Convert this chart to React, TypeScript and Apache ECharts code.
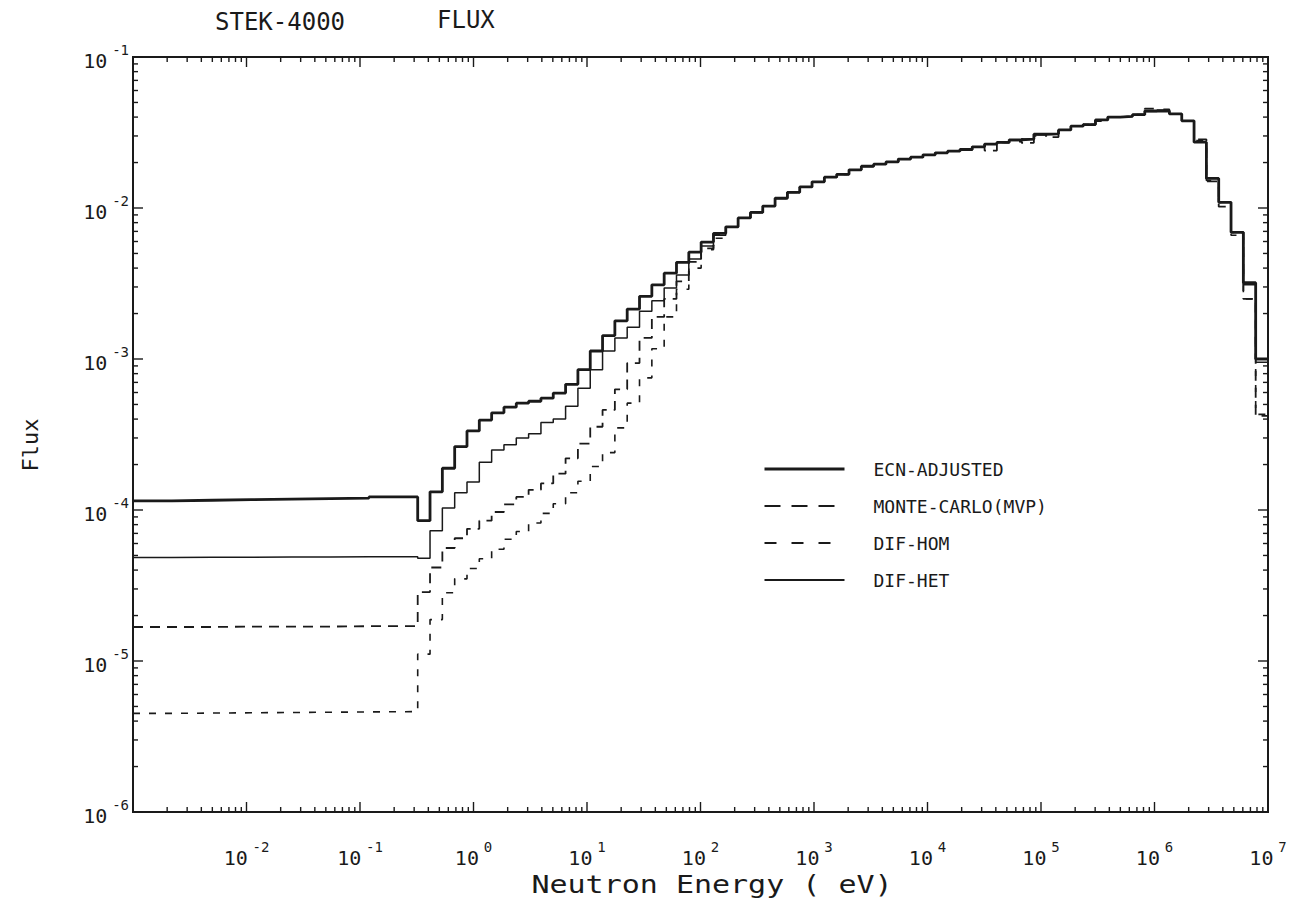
import React, { useEffect, useRef } from "react";
import * as echarts from "echarts";

// Group boundaries (eV), ascending; last value is the top edge of the last group
const ENERGY_EDGES = [
  0.001, 0.0022, 0.005, 0.011, 0.025, 0.055, 0.12,
  0.3224, 0.414, 0.5316, 0.6826, 0.8764,
  1.125, 1.445, 1.855, 2.382, 3.059, 3.928, 5.043, 6.476, 8.315,
  10.68, 13.71, 17.6, 22.6, 29.02, 37.27, 47.85, 61.44, 78.89,
  101.3, 130.1, 167.0, 214.5, 275.4, 353.6, 454.0, 583.0, 748.5, 961.1,
  1234, 1585, 2035, 2613, 3355, 4308, 5530, 7102, 9119,
  11710, 15030, 19310, 24790, 31830, 40870, 52480, 67380, 86540,
  111100, 142700, 183200, 235200, 301900, 387600, 497900, 639200, 820800,
  1054000, 1353000, 1738000, 2231000, 2865000, 3679000, 4724000, 6065000, 7788000,
  1e7,
];

const ECN_ADJUSTED = [
  1.15e-4, 1.16e-4, 1.17e-4, 1.18e-4, 1.19e-4, 1.2e-4, 1.22e-4,
  8.5e-5, 1.32e-4, 1.89e-4, 2.63e-4, 3.34e-4,
  3.94e-4, 4.4e-4, 4.8e-4, 5.1e-4, 5.25e-4, 5.5e-4, 5.95e-4, 6.8e-4, 8.5e-4,
  1.13e-3, 1.43e-3, 1.79e-3, 2.14e-3, 2.6e-3, 3.1e-3, 3.7e-3, 4.37e-3, 5.1e-3,
  5.95e-3, 6.8e-3, 7.5e-3, 8.6e-3, 9.35e-3, 1.03e-2, 1.16e-2, 1.27e-2, 1.38e-2, 1.49e-2,
  1.6e-2, 1.67e-2, 1.79e-2, 1.89e-2, 1.95e-2, 2.02e-2, 2.11e-2, 2.17e-2, 2.25e-2,
  2.32e-2, 2.38e-2, 2.44e-2, 2.54e-2, 2.65e-2, 2.72e-2, 2.83e-2, 2.86e-2, 3.08e-2,
  3.1e-2, 3.29e-2, 3.48e-2, 3.57e-2, 3.83e-2, 4.0e-2, 4.04e-2, 4.15e-2, 4.39e-2,
  4.4e-2, 4.2e-2, 3.78e-2, 2.73e-2, 1.57e-2, 1.09e-2, 6.9e-3, 3.2e-3, 1.0e-3,
];

const MONTE_CARLO_MVP = [
  1.68e-5, 1.68e-5, 1.69e-5, 1.69e-5, 1.69e-5, 1.7e-5, 1.7e-5,
  2.86e-5, 4.16e-5, 5.6e-5, 6.5e-5, 7.5e-5,
  8.5e-5, 9.7e-5, 1.09e-4, 1.22e-4, 1.36e-4, 1.5e-4, 1.74e-4, 2.2e-4, 2.75e-4,
  3.56e-4, 4.6e-4, 6.3e-4, 9.4e-4, 1.38e-3, 1.9e-3, 2.5e-3, 3.27e-3, 4.4e-3,
  5.4e-3, 6.7e-3, 7.5e-3, 8.6e-3, 9.35e-3, 1.03e-2, 1.16e-2, 1.27e-2, 1.38e-2, 1.49e-2,
  1.6e-2, 1.67e-2, 1.79e-2, 1.89e-2, 1.95e-2, 2.02e-2, 2.11e-2, 2.17e-2, 2.25e-2,
  2.32e-2, 2.38e-2, 2.44e-2, 2.54e-2, 2.4e-2, 2.72e-2, 2.83e-2, 2.7e-2, 3.08e-2,
  2.95e-2, 3.29e-2, 3.48e-2, 3.57e-2, 3.83e-2, 4.0e-2, 4.04e-2, 4.15e-2, 4.55e-2,
  4.4e-2, 4.2e-2, 3.78e-2, 2.85e-2, 1.5e-2, 1.02e-2, 6.9e-3, 2.5e-3, 4.2e-4,
];

const DIF_HOM = [
  4.5e-6, 4.52e-6, 4.54e-6, 4.56e-6, 4.58e-6, 4.6e-6, 4.62e-6,
  1.11e-5, 1.88e-5, 2.83e-5, 3.5e-5, 4.1e-5,
  4.75e-5, 5.5e-5, 6.4e-5, 7.2e-5, 8.2e-5, 9.5e-5, 1.1e-4, 1.3e-4, 1.55e-4,
  1.94e-4, 2.4e-4, 3.5e-4, 5.1e-4, 7.5e-4, 1.17e-3, 1.9e-3, 2.9e-3, 4.0e-3,
  5.3e-3, 6.3e-3, 7.5e-3, 8.6e-3, 9.35e-3, 1.03e-2, 1.16e-2, 1.27e-2, 1.38e-2, 1.49e-2,
  1.6e-2, 1.67e-2, 1.79e-2, 1.89e-2, 1.95e-2, 2.02e-2, 2.11e-2, 2.17e-2, 2.25e-2,
  2.32e-2, 2.38e-2, 2.44e-2, 2.54e-2, 2.65e-2, 2.72e-2, 2.75e-2, 2.86e-2, 3.0e-2,
  3.1e-2, 3.29e-2, 3.48e-2, 3.57e-2, 3.75e-2, 4.0e-2, 4.04e-2, 4.15e-2, 4.39e-2,
  4.5e-2, 4.2e-2, 3.78e-2, 2.8e-2, 1.52e-2, 1.09e-2, 6.6e-3, 2.5e-3, 4.3e-4,
];

const DIF_HET = [
  4.85e-5, 4.86e-5, 4.87e-5, 4.88e-5, 4.89e-5, 4.9e-5, 4.9e-5,
  4.8e-5, 7.3e-5, 1.03e-4, 1.3e-4, 1.53e-4,
  2.07e-4, 2.5e-4, 2.7e-4, 3.0e-4, 3.2e-4, 3.8e-4, 4.0e-4, 4.86e-4, 6.4e-4,
  8.5e-4, 1.13e-3, 1.38e-3, 1.62e-3, 2.07e-3, 2.43e-3, 2.95e-3, 3.6e-3, 4.6e-3,
  5.6e-3, 6.6e-3, 7.5e-3, 8.6e-3, 9.35e-3, 1.03e-2, 1.16e-2, 1.27e-2, 1.38e-2, 1.48e-2,
  1.6e-2, 1.67e-2, 1.79e-2, 1.89e-2, 1.95e-2, 2.02e-2, 2.11e-2, 2.17e-2, 2.25e-2,
  2.32e-2, 2.38e-2, 2.43e-2, 2.54e-2, 2.65e-2, 2.72e-2, 2.8e-2, 2.86e-2, 3.05e-2,
  3.1e-2, 3.29e-2, 3.48e-2, 3.57e-2, 3.83e-2, 4.0e-2, 4.04e-2, 4.15e-2, 4.35e-2,
  4.45e-2, 4.2e-2, 3.78e-2, 2.73e-2, 1.57e-2, 1.09e-2, 6.9e-3, 3.1e-3, 9.5e-4,
];

const SERIES_NAMES = ["ECN-ADJUSTED", "MONTE-CARLO(MVP)", "DIF-HOM", "DIF-HET"];
const X_DECADES = [-3, -2, -1, 0, 1, 2, 3, 4, 5, 6, 7];
const Y_DECADES = [-6, -5, -4, -3, -2, -1];
const MINOR_MULTS = [1, 2, 3, 4, 5, 6, 7, 8, 9];
const X_MIN = 1e-3, X_MAX = 1e7, Y_MIN = 1e-6, Y_MAX = 1e-1;

const MONO = "'DejaVu Sans Mono', 'Liberation Mono', monospace";
const INK = "#1a1a1a";

function stepData(vals: number[]) {
  const pts: number[][] = vals.map((v, i) => [ENERGY_EDGES[i], v]);
  pts.push([ENERGY_EDGES[vals.length], vals[vals.length - 1]]);
  return pts;
}

function tickData() {
  const out: number[][] = [];
  X_DECADES.forEach((d) => {
    MINOR_MULTS.forEach((m) => {
      const v = m * Math.pow(10, d);
      if (v >= X_MIN * 0.999 && v <= X_MAX * 1.001) out.push([v, Y_MIN, 0, m === 1 ? 1 : 0]);
    });
  });
  Y_DECADES.forEach((d) => {
    MINOR_MULTS.forEach((m) => {
      const v = m * Math.pow(10, d);
      if (v >= Y_MIN * 0.999 && v <= Y_MAX * 1.001) out.push([X_MIN, v, 1, m === 1 ? 1 : 0]);
    });
  });
  return out;
}

const labelRich = {
  b: { fontFamily: MONO, fontSize: 20, color: INK, lineHeight: 28, verticalAlign: "bottom" },
  s: { fontFamily: MONO, fontSize: 8, color: INK, lineHeight: 28 },
  e: { fontFamily: MONO, fontSize: 14, color: INK, lineHeight: 16, verticalAlign: "top" },
};

function expLabel(v: number) {
  const e = Math.round(Math.log10(v));
  return `{b|10}{s| }{e|${e}}`;
}

export default function App() {
  const ref = useRef<HTMLDivElement>(null);

  useEffect(() => {
    if (!ref.current) return;
    const chart = echarts.init(ref.current, undefined, { renderer: "svg" });
    const styles = [
      { width: 2.8, type: "solid" as any, legendType: "solid" as any, legendWidth: 3 },
      { width: 1.8, type: [10, 7] as any, legendType: [16, 11] as any, legendWidth: 2.2 },
      { width: 1.6, type: [7, 9] as any, legendType: [12, 15] as any, legendWidth: 2 },
      { width: 1.5, type: "solid" as any, legendType: "solid" as any, legendWidth: 1.8 },
    ];
    const dataSets = [ECN_ADJUSTED, MONTE_CARLO_MVP, DIF_HOM, DIF_HET];

    const lineSeries = SERIES_NAMES.map((name, i) => ({
      name,
      type: "line",
      step: "end",
      symbol: "none",
      showSymbol: false,
      data: stepData(dataSets[i]),
      lineStyle: { color: INK, width: styles[i].width, type: styles[i].type },
      itemStyle: { color: INK },
      z: 3 + (3 - i),
    }));

    const ticksSeries = {
      type: "custom",
      coordinateSystem: "cartesian2d",
      silent: true,
      clip: false,
      z: 10,
      encode: { x: 0, y: 1 },
      data: tickData(),
      renderItem: (params: any, api: any) => {
        const cs = params.coordSys;
        const axis = api.value(2);
        const major = api.value(3);
        const len = major ? 10 : 5;
        const st = { stroke: INK, lineWidth: 1.4 };
        if (axis === 0) {
          const px = api.coord([api.value(0), Y_MIN])[0];
          const yb = cs.y + cs.height;
          return {
            type: "group",
            children: [
              { type: "line", shape: { x1: px, y1: yb, x2: px, y2: yb - len }, style: st },
              { type: "line", shape: { x1: px, y1: cs.y, x2: px, y2: cs.y + len }, style: st },
            ],
          };
        }
        const py = api.coord([X_MIN, api.value(1)])[1];
        const xr = cs.x + cs.width;
        return {
          type: "group",
          children: [
            { type: "line", shape: { x1: cs.x, y1: py, x2: cs.x + len, y2: py }, style: st },
            { type: "line", shape: { x1: xr, y1: py, x2: xr - len, y2: py }, style: st },
          ],
        };
      },
    };

    chart.setOption({
      animation: false,
      backgroundColor: "#ffffff",
      grid: {
        left: 133,
        right: 27,
        top: 57,
        bottom: 100,
        show: true,
        borderColor: INK,
        borderWidth: 2,
        backgroundColor: "transparent",
      },
      legend: {
        data: SERIES_NAMES.map((name, i) => ({
          name,
          lineStyle: { width: styles[i].legendWidth, type: styles[i].legendType, color: INK },
        })),
        orient: "vertical",
        left: 758,
        top: 455,
        itemWidth: 80,
        itemHeight: 14,
        itemGap: 19,
        itemStyle: { opacity: 0 },
        textStyle: { fontFamily: MONO, fontSize: 18, color: INK, padding: [0, 0, 0, 24] },
        selectedMode: false,
      },
      xAxis: {
        type: "log",
        logBase: 10,
        min: X_MIN,
        max: X_MAX,
        interval: 1,
        splitNumber: 10,
        axisLine: { show: false },
        axisTick: { show: false },
        splitLine: { show: false },
        axisLabel: {
          margin: 28,
          showMinLabel: true,
          showMaxLabel: true,
          hideOverlap: false,
          formatter: (v: number) => (v <= X_MIN * 1.001 ? "" : expLabel(v)),
          rich: labelRich,
        },
      },
      yAxis: {
        type: "log",
        logBase: 10,
        min: Y_MIN,
        max: Y_MAX,
        interval: 1,
        splitNumber: 5,
        axisLine: { show: false },
        axisTick: { show: false },
        splitLine: { show: false },
        axisLabel: {
          margin: 4,
          showMinLabel: true,
          showMaxLabel: true,
          formatter: (v: number) => expLabel(v),
          rich: labelRich,
        },
      },
      graphic: [
        { type: "text", x: 215, y: 10, style: { text: "STEK-4000", font: `24px ${MONO}`, fill: INK } },
        { type: "text", x: 437, y: 8, style: { text: "FLUX", font: `24px ${MONO}`, fill: INK } },
        {
          type: "text",
          x: 30,
          y: 445,
          rotation: Math.PI / 2,
          style: { text: "Flux", font: `22px ${MONO}`, fill: INK, align: "center", verticalAlign: "middle" },
        },
        {
          type: "text",
          x: 712,
          y: 885,
          scaleX: 1.25,
          style: {
            text: "Neutron Energy ( eV)",
            font: `24px ${MONO}`,
            fill: INK,
            align: "center",
            verticalAlign: "middle",
          },
        },
      ],
      series: [...lineSeries, ticksSeries],
    });

    return () => chart.dispose();
  }, []);

  return (
    <div
      ref={ref}
      style={{ position: "fixed", left: 0, top: 0, width: 1295, height: 912, background: "#fff" }}
    />
  );
}
